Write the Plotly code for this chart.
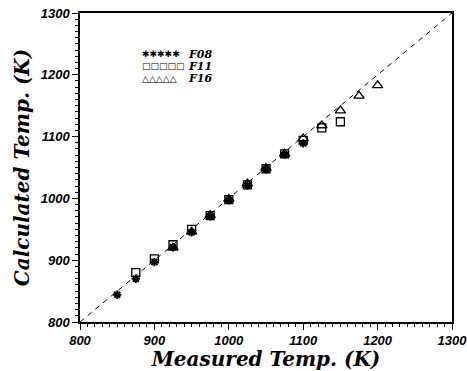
import plotly.graph_objects as go

# Data (Measured vs Calculated temperature, K)
f08_meas = [850, 875, 900, 925, 950, 975, 1000, 1025, 1050, 1075, 1100]
f08_calc = [844, 870, 897, 921, 945, 971, 997, 1021, 1047, 1071, 1089]

f11_meas = [875, 900, 925, 950, 975, 1000, 1025, 1050, 1075, 1100, 1125, 1150]
f11_calc = [880, 902, 925, 950, 972, 998, 1022, 1048, 1072, 1094, 1114, 1124]

f16_meas = [925, 950, 975, 1000, 1025, 1050, 1075, 1100, 1125, 1150, 1175, 1200]
f16_calc = [920, 946, 973, 999, 1024, 1049, 1072, 1097, 1118, 1142, 1166, 1183]

axis_range = [800, 1300]
tick_step = 100
minor_step = 10

legend_names = ["F08", "F11", "F16"]
legend_glyphs = ["✱✱✱✱✱", "□□□□□", "△△△△△"]

fig = go.Figure()

# 1:1 reference line
fig.add_trace(go.Scatter(x=axis_range, y=axis_range, mode="lines",
                         line=dict(color="black", width=1, dash="5px,5px"),
                         showlegend=False, hoverinfo="skip"))

fig.add_trace(go.Scatter(x=f08_meas, y=f08_calc, mode="markers", name="F08",
                         marker=dict(symbol="asterisk-open", size=7, color="black",
                                     line=dict(color="black", width=2))))
fig.add_trace(go.Scatter(x=f11_meas, y=f11_calc, mode="markers", name="F11",
                         marker=dict(symbol="square-open", size=8, color="black",
                                     line=dict(color="black", width=1.3))))
fig.add_trace(go.Scatter(x=f16_meas, y=f16_calc, mode="markers", name="F16",
                         marker=dict(symbol="triangle-up-open", size=9, color="black",
                                     line=dict(color="black", width=1.3))))

tick_font = dict(family="Liberation Sans", size=13, color="black", weight="bold", style="italic")
title_font = dict(family="DejaVu Serif", size=20, color="black", weight="bold", style="italic")

axis_common = dict(range=axis_range, tick0=axis_range[0], dtick=tick_step,
                   ticks="outside", ticklen=6, automargin=False,
                   ticklabeloverflow="allow",
                   tickwidth=1, tickcolor="black", showline=True, linecolor="black",
                   linewidth=1.5, mirror=True, showgrid=False, zeroline=False,
                   tickfont=tick_font,
                   minor=dict(dtick=minor_step, ticks="outside", ticklen=3,
                              tickcolor="black", tickwidth=1, showgrid=False))

fig.update_xaxes(title=dict(text="Measured Temp. (K)", font=title_font, standoff=6),
                 **axis_common)
fig.update_yaxes(title=dict(text="Calculated Temp. (K)", font=title_font, standoff=6),
                 **axis_common)

# Legend drawn as text rows (glyph repeated, as in the original)
for i, (g, n) in enumerate(zip(legend_glyphs, legend_names)):
    yy = 0.867 - i * 0.04
    fig.add_annotation(xref="paper", yref="paper", x=0.16, y=yy, xanchor="left",
                       yanchor="middle", text=g, showarrow=False,
                       font=dict(family="DejaVu Sans", size=9, color="black"))
    fig.add_annotation(xref="paper", yref="paper", x=0.285, y=yy, xanchor="left",
                       yanchor="middle", text=n, showarrow=False,
                       font=dict(family="DejaVu Serif", size=11, color="black",
                                 weight="bold", style="italic"))

fig.update_layout(width=467, height=371, showlegend=False,
                  margin=dict(l=80, r=15, t=13, b=49),
                  paper_bgcolor="white", plot_bgcolor="white")

# remove the default page margin so the figure fills the window exactly
fig.write_html("out.html", config={"displayModeBar": False},
               post_script="document.body.style.margin='0';")
